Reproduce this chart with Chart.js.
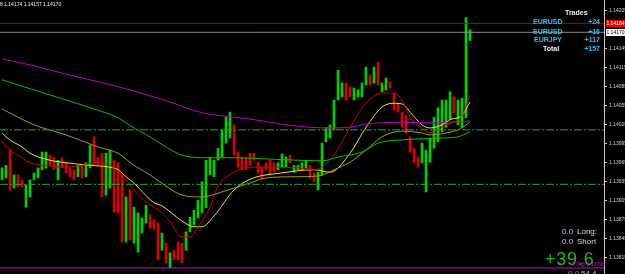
<!DOCTYPE html>
<html>
<head>
<meta charset="utf-8">
<script src="https://cdn.jsdelivr.net/npm/chart.js@4.4.1/dist/chart.umd.min.js"></script>
<style>
  html, body { margin: 0; padding: 0; background: #000; }
  #wrap { position: relative; width: 625px; height: 274px; overflow: hidden; background: #000; }
  #wrap canvas { position: absolute; left: 0; top: 0; }
  .t { position: absolute; white-space: nowrap; font-family: 'Liberation Sans', Arial, sans-serif; }
  .panel { font-weight: bold; font-size: 7px; line-height: 8px; }
  .cy { color: #18c4ff; }
  .wh { color: #f0f0f0; }
  .num { text-align: right; width: 30px; }
  .small { font-size: 8px; line-height: 9px; }
  .tag { font-size: 5px; line-height: 7px; width: 19px; text-align: center; }
</style>
</head>
<body>
<div id="wrap">
  <canvas id="priceChart" width="625" height="274"></canvas>

  <div class="t wh" style="left:0;top:1px;font-size:5px;line-height:6px;">8 1.14174 1.14157 1.14170</div>

  <div class="t panel wh" style="left:565px;top:9px;">Trades</div>
  <div class="t panel cy" style="left:533px;top:18px;">EURUSD</div>
  <div class="t panel cy num" style="left:570px;top:18px;">+24</div>
  <div class="t panel cy" style="left:533px;top:28px;">EURUSD</div>
  <div class="t panel cy num" style="left:570px;top:28px;">+16</div>
  <div class="t panel cy" style="left:534px;top:36px;">EURJPY</div>
  <div class="t panel cy num" style="left:570px;top:36px;">+117</div>
  <div class="t panel wh" style="left:543px;top:45px;">Total</div>
  <div class="t panel cy num" style="left:570px;top:45px;">+157</div>

  <div class="t tag" style="left:606px;top:20px;background:#ee0000;color:#fff;">1.14184</div>
  <div class="t tag" style="left:606px;top:29px;background:#fff;color:#000;">1.14170</div>

  <div class="t small" style="left:562px;top:227px;color:#a8cfff;">0.0</div>
  <div class="t small" style="left:577px;top:227px;color:#d8d8d8;">Long:</div>
  <div class="t small" style="left:562px;top:237px;color:#a8cfff;">0.0</div>
  <div class="t small" style="left:577px;top:237px;color:#d8d8d8;">Short</div>
  <div class="t" style="left:545px;top:250px;font-size:18px;line-height:18px;letter-spacing:0.8px;color:#1db81d;">+39.6</div>
  <div class="t" style="left:572px;top:262px;font-size:5px;line-height:5px;color:#e000e0;">3.3 @ 1.13798</div>
  <div class="t small" style="left:568px;top:269px;color:#22c022;">0.0</div>
  <div class="t small" style="left:581px;top:269px;color:#c8c8c8;">54.4</div>
</div>

<script>
'use strict';

// ── Candles (H1 bars, oldest first) ──
const BAR_HIGH = [
  1.13956, 1.13960, 1.13984, 1.13945, 1.13945, 1.13937, 1.13929, 1.13937, 1.13948, 1.13956,
  1.13981, 1.13981, 1.13976, 1.13972, 1.13968, 1.13972, 1.13965, 1.13956, 1.13953, 1.13960,
  1.13960, 1.13964, 1.13992, 1.14005, 1.13972, 1.13979, 1.13979, 1.13984, 1.13968, 1.13964,
  1.13948, 1.13910, 1.13921, 1.13894, 1.13885, 1.13877, 1.13897, 1.13882, 1.13874, 1.13869,
  1.13853, 1.13837, 1.13822, 1.13826, 1.13839, 1.13837, 1.13855, 1.13878, 1.13889, 1.13905,
  1.13934, 1.13968, 1.13972, 1.13968, 1.13987, 1.14016, 1.14036, 1.14044, 1.14024, 1.13981,
  1.13973, 1.13972, 1.13979, 1.13979, 1.13965, 1.13957, 1.13964, 1.13968, 1.13964, 1.13964,
  1.13978, 1.13973, 1.13976, 1.13960, 1.13960, 1.13964, 1.13968, 1.13960, 1.13948, 1.13949,
  1.13995, 1.14020, 1.14024, 1.14063, 1.14110, 1.14090, 1.14090, 1.14084, 1.14082, 1.14079,
  1.14090, 1.14115, 1.14103, 1.14115, 1.14123, 1.14090, 1.14098, 1.14092, 1.14074, 1.14058,
  1.14044, 1.14039, 1.14005, 1.13987, 1.13973, 1.13995, 1.13984, 1.14003, 1.14036, 1.14051,
  1.14063, 1.14063, 1.14076, 1.14068, 1.14063, 1.14066, 1.14193, 1.14174,
];
const BAR_LOW = [
  1.13937, 1.13940, 1.13921, 1.13924, 1.13926, 1.13926, 1.13894, 1.13910, 1.13937, 1.13940,
  1.13953, 1.13956, 1.13960, 1.13953, 1.13937, 1.13956, 1.13948, 1.13942, 1.13937, 1.13942,
  1.13940, 1.13942, 1.13956, 1.13960, 1.13960, 1.13910, 1.13913, 1.13924, 1.13886, 1.13885,
  1.13839, 1.13839, 1.13842, 1.13837, 1.13823, 1.13853, 1.13869, 1.13861, 1.13858, 1.13811,
  1.13826, 1.13806, 1.13798, 1.13811, 1.13811, 1.13806, 1.13826, 1.13855, 1.13866, 1.13877,
  1.13885, 1.13893, 1.13945, 1.13942, 1.13968, 1.13973, 1.13995, 1.14003, 1.13976, 1.13957,
  1.13953, 1.13953, 1.13960, 1.13968, 1.13948, 1.13937, 1.13953, 1.13945, 1.13949, 1.13953,
  1.13957, 1.13957, 1.13964, 1.13949, 1.13953, 1.13953, 1.13956, 1.13940, 1.13934, 1.13921,
  1.13945, 1.13997, 1.14003, 1.14016, 1.14063, 1.14068, 1.14063, 1.14068, 1.14063, 1.14068,
  1.14068, 1.14087, 1.14087, 1.14090, 1.14087, 1.14076, 1.14079, 1.14082, 1.14047, 1.14044,
  1.14020, 1.14011, 1.13981, 1.13964, 1.13957, 1.13964, 1.13918, 1.13965, 1.13987, 1.13997,
  1.14013, 1.14020, 1.14032, 1.14043, 1.14024, 1.14020, 1.14035, 1.14157,
];
// 1 = bull bar, 0 = bear bar
const BAR_UP = [
  1, 1, 0, 1, 0, 0, 1, 1, 1, 1,  1, 1, 0, 0, 1, 0, 0, 0, 0, 1,
  0, 1, 1, 0, 0, 0, 1, 1, 0, 0,  0, 1, 0, 1, 1, 1, 1, 0, 0, 0,
  1, 0, 1, 0, 0, 0, 1, 1, 1, 1,  1, 1, 1, 1, 1, 1, 1, 1, 0, 0,
  0, 0, 0, 0, 0, 0, 0, 0, 0, 1,  1, 1, 0, 1, 1, 1, 1, 0, 0, 1,
  1, 1, 1, 1, 1, 1, 0, 0, 1, 1,  1, 1, 0, 1, 0, 1, 1, 0, 0, 0,
  0, 0, 0, 0, 0, 1, 1, 1, 1, 1,  1, 1, 1, 0, 1, 1, 1, 1,
];

// ── Moving averages, read at bar indexes ──
const MA_SLOW_IDX = [0, 8, 16, 24, 32, 41, 50, 58, 62, 70, 77, 82, 87, 91, 100, 107, 117];
const MA_SLOW = [1.14128, 1.14117, 1.14104, 1.14092, 1.14079, 1.14062, 1.14043, 1.14036, 1.14033,
  1.14025, 1.14020, 1.14019, 1.14020, 1.14025, 1.14028, 1.14027, 1.14030];

const MA_GREEN_IDX = [0, 8, 16, 24, 29, 33, 37, 41, 45, 50, 58, 66, 74, 80, 84, 90, 94, 100, 105, 110, 114, 117];
const MA_GREEN = [1.14095, 1.14079, 1.14063, 1.14047, 1.14035, 1.14019, 1.14005, 1.13989, 1.13976, 1.13972,
  1.13972, 1.13970, 1.13968, 1.13967, 1.13973, 1.13981, 1.13995, 1.14000, 1.14002, 1.14003, 1.14005, 1.14013];

const MA_OLIVE_IDX = [0, 8, 16, 24, 29, 33, 37, 41, 45, 50, 55, 58, 62, 66, 74, 79, 83, 87, 91, 95, 100, 105, 107, 111, 114, 117];
const MA_OLIVE = [1.14049, 1.14024, 1.14008, 1.13989, 1.13979, 1.13960, 1.13945, 1.13927, 1.13913, 1.13910,
  1.13918, 1.13924, 1.13932, 1.13940, 1.13942, 1.13943, 1.13953, 1.13965, 1.13984, 1.14005,
  1.14014, 1.14011, 1.14008, 1.14011, 1.14016, 1.14028];

const MA_RED_IDX = [0, 2, 5, 7, 12, 16, 20, 23, 27, 29, 31, 33, 36, 38, 40, 42, 45, 47, 49, 52, 54, 58, 62, 66,
  74, 78, 80, 83, 87, 91, 95, 98, 100, 102, 105, 107, 109, 111, 113, 115, 117];
const MA_RED = [1.13997, 1.13984, 1.13972, 1.13964, 1.13959, 1.13957, 1.13960, 1.13964, 1.13960, 1.13949,
  1.13937, 1.13921, 1.13902, 1.13894, 1.13885, 1.13871, 1.13847, 1.13847, 1.13863, 1.13894,
  1.13927, 1.13949, 1.13957, 1.13957, 1.13956, 1.13953, 1.13957, 1.13976, 1.14020, 1.14058,
  1.14074, 1.14074, 1.14063, 1.14036, 1.14019, 1.14011, 1.14016, 1.14024, 1.14028, 1.14039, 1.14071];

const MA_YELLOW_IDX = [0, 2, 5, 7, 12, 16, 22, 27, 29, 31, 33, 36, 38, 40, 45, 48, 50, 53, 58, 62, 70, 78, 82,
  87, 91, 95, 98, 100, 102, 105, 107, 110, 112, 115, 117];
const MA_YELLOW = [1.14011, 1.14000, 1.13989, 1.13979, 1.13968, 1.13964, 1.13960, 1.13957, 1.13953, 1.13942,
  1.13932, 1.13912, 1.13901, 1.13896, 1.13872, 1.13863, 1.13863, 1.13880, 1.13921, 1.13938,
  1.13948, 1.13953, 1.13949, 1.13979, 1.14020, 1.14052, 1.14058, 1.14057, 1.14044, 1.14024,
  1.14019, 1.14024, 1.14032, 1.14039, 1.14060];

// ── Horizontal levels ──
const ASK_PRICE   = 1.14184;
const BID_PRICE   = 1.14170;
const LEVELS      = [1.14016, 1.13930];
const ORDER_PRICE = 1.13798;

// ── Price axis ──
const Y_TICKS = [1.14205, 1.14145, 1.14115, 1.14085, 1.14055, 1.14025, 1.13995,
  1.13965, 1.13935, 1.13905, 1.13875, 1.13845, 1.13815];
const Y_MIN = 1.137884;
const Y_MAX = 1.14221;
const SLOTS = 151;

function maLine(idx, vals, color) {
  return {
    type: 'line',
    data: idx.map((x, k) => ({ x, y: vals[k] })),
    borderColor: color,
    borderWidth: 1,
    pointRadius: 0,
    cubicInterpolationMode: 'monotone',
    order: 0,
  };
}

function hLine(y, color, dash) {
  return {
    type: 'line',
    data: [{ x: -0.5, y }, { x: SLOTS - 0.5, y }],
    borderColor: color,
    borderWidth: 1,
    borderDash: dash || [],
    pointRadius: 0,
    order: 0,
  };
}

const bars = {
  type: 'bar',
  data: BAR_HIGH.map((h, i) => ({ x: i, y: [BAR_LOW[i], h] })),
  backgroundColor: BAR_UP.map(u => (u ? '#00d000' : '#d80000')),
  barThickness: 2,
  grouped: false,
  order: 5,
};

new Chart(document.getElementById('priceChart'), {
  type: 'bar',
  data: {
    datasets: [
      bars,
      hLine(ASK_PRICE, '#b40000'),
      hLine(BID_PRICE, '#8a8a8a'),
      hLine(LEVELS[0], '#25a825', [8, 2, 2, 2]),
      hLine(LEVELS[1], '#25a825', [8, 2, 2, 2]),
      hLine(ORDER_PRICE, '#d000d0'),
      maLine(MA_SLOW_IDX, MA_SLOW, '#c000c0'),
      maLine(MA_GREEN_IDX, MA_GREEN, '#00c000'),
      maLine(MA_OLIVE_IDX, MA_OLIVE, '#9a9a10'),
      maLine(MA_RED_IDX, MA_RED, '#d00000'),
      maLine(MA_YELLOW_IDX, MA_YELLOW, '#e8e800'),
    ],
  },
  options: {
    responsive: false,
    animation: false,
    devicePixelRatio: 1,
    layout: { padding: 0 },
    plugins: { legend: { display: false }, tooltip: { enabled: false } },
    scales: {
      x: {
        type: 'linear',
        display: false,
        offset: false,
        min: -0.5,
        max: SLOTS - 0.5,
      },
      y: {
        position: 'right',
        min: Y_MIN,
        max: Y_MAX,
        border: { display: true, color: '#c8c8c8', width: 1 },
        grid: { drawOnChartArea: false, drawTicks: true, tickLength: 3, color: '#c8c8c8' },
        ticks: {
          color: '#d0d0d0',
          padding: 2,
          font: { family: 'Liberation Sans', size: 5 },
          callback: v => Number(v).toFixed(5),
        },
        afterBuildTicks: axis => { axis.ticks = Y_TICKS.map(v => ({ value: v })); },
        afterFit: axis => {
          axis.width = 21;
          axis.paddingTop = 0;
          axis.paddingBottom = 0;
        },
      },
    },
  },
});
</script>
</body>
</html>
